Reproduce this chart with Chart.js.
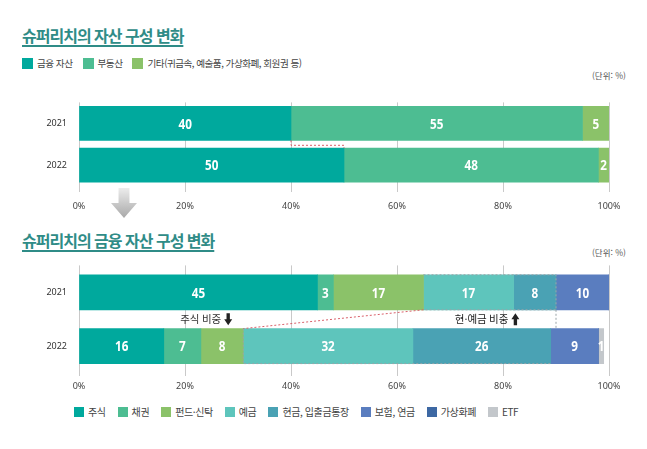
<!DOCTYPE html>
<html lang="ko">
<head>
<meta charset="utf-8">
<script src="https://cdn.jsdelivr.net/npm/chart.js@4.4.0/dist/chart.umd.min.js"></script>
<style>
  body { margin: 0; background: #fff; font-family: 'Noto Sans CJK KR', 'Noto Sans', sans-serif; }
  #page { position: relative; width: 647px; height: 449px; overflow: hidden; }
  .title { position: absolute; left: 22px; font-size: 16px; font-weight: 700; color: #2f8c87;
           letter-spacing: -1px; text-decoration: underline; text-underline-offset: 3px;
           text-decoration-thickness: 1.5px; line-height: 20px; }
  .unit { position: absolute; left: 592px; font-size: 8.5px; color: #555; line-height: 10px; }
  .legend { position: absolute; display: flex; align-items: center; font-size: 10px; color: #444;
            letter-spacing: -0.4px; line-height: 12px; }
  .legend .item { display: flex; align-items: center; }
  .legend i { display: inline-block; margin-right: 4px; }
  #legend1 { left: 22px; top: 57px; gap: 10px; font-size: 9.6px; letter-spacing: -0.5px; }
  #legend1 i { width: 11px; height: 11px; }
  #legend2 { left: 74px; top: 406px; gap: 12px; }
  #legend2 i { width: 10px; height: 10px; }
  canvas { position: absolute; left: 0; }
</style>
</head>
<body>
<div id="page">
  <div class="title" style="top:25px">슈퍼리치의 자산 구성 변화</div>
  <div class="legend" id="legend1"></div>
  <div class="unit" style="top:70px">(단위: %)</div>
  <canvas id="assetChart" width="647" height="135" style="top:85px"></canvas>

  <div class="title" style="top:230px">슈퍼리치의 금융 자산 구성 변화</div>
  <div class="unit" style="top:247px">(단위: %)</div>
  <canvas id="finChart" width="647" height="150" style="top:248px"></canvas>
  <div class="legend" id="legend2"></div>
</div>

<script>
// --- 데이터 ---
const years = ['2021', '2022'];
const xTicks = [0, 20, 40, 60, 80, 100];

// 자산 구성
const assetNames = ['금융 자산', '부동산', '기타(귀금속, 예술품, 가상화폐, 회원권 등)'];
const finAsset = [40, 50];
const realEstate = [55, 48];
const etcAsset = [5, 2];
const assetColors = ['#00a99d', '#4dbd92', '#8bc269'];

// 금융 자산 구성
const finNames = ['주식', '채권', '펀드·신탁', '예금', '현금, 입출금통장', '보험, 연금', '가상화폐', 'ETF'];
const stocks = [45, 16];
const bonds = [3, 7];
const funds = [17, 8];
const deposits = [17, 32];
const cash = [8, 26];
const insurance = [10, 9];
const crypto = [0, 0];
const etf = [0, 1];
const finColors = ['#00a99d', '#4dbd92', '#8bc269', '#5ec5bc', '#4aa2b4', '#5a7dbf', '#3d68a3', '#c3c7cb'];

// --- 범례 (HTML) ---
function buildLegend(el, names, colors) {
  names.forEach((n, i) => {
    const span = document.createElement('span');
    span.className = 'item';
    span.innerHTML = `<i style="background:${colors[i]}"></i>${n}`;
    el.appendChild(span);
  });
}
buildLegend(document.getElementById('legend1'), assetNames, assetColors);
buildLegend(document.getElementById('legend2'), finNames, finColors);

// --- 막대 안의 숫자 ---
const valueLabels = {
  id: 'valueLabels',
  afterDatasetsDraw(chart) {
    const ctx = chart.ctx;
    ctx.save();
    ctx.fillStyle = '#fff';
    ctx.font = 'bold 15px "Noto Sans", sans-serif';
    ctx.textAlign = 'center';
    ctx.textBaseline = 'middle';
    chart.data.datasets.forEach((ds, i) => {
      chart.getDatasetMeta(i).data.forEach((bar, j) => {
        const v = ds.data[j];
        if (!v) return;
        ctx.save();
        ctx.translate((bar.x + bar.base) / 2, bar.y + 1);
        ctx.scale(0.78, 1);
        ctx.fillText(String(v), 0, 0);
        ctx.restore();
      });
    });
    ctx.restore();
  }
};

function barEdges(chart) {
  const el0 = chart.getDatasetMeta(0).data[0];
  const el1 = chart.getDatasetMeta(0).data[1];
  return { bottom0: el0.y + el0.height / 2, top1: el1.y - el1.height / 2 };
}

function drawArrow(ctx, cx, top, w, h, up, fill) {
  const hw = w / 2, sw = w * 0.42 / 2, headH = h * 0.5;
  ctx.beginPath();
  if (up) {
    ctx.moveTo(cx, top);
    ctx.lineTo(cx + hw, top + headH);
    ctx.lineTo(cx + sw, top + headH);
    ctx.lineTo(cx + sw, top + h);
    ctx.lineTo(cx - sw, top + h);
    ctx.lineTo(cx - sw, top + headH);
    ctx.lineTo(cx - hw, top + headH);
  } else {
    ctx.moveTo(cx - sw, top);
    ctx.lineTo(cx + sw, top);
    ctx.lineTo(cx + sw, top + h - headH);
    ctx.lineTo(cx + hw, top + h - headH);
    ctx.lineTo(cx, top + h);
    ctx.lineTo(cx - hw, top + h - headH);
    ctx.lineTo(cx - sw, top + h - headH);
  }
  ctx.closePath();
  ctx.fillStyle = fill;
  ctx.fill();
}

function dotted(ctx, color, pts) {
  ctx.save();
  ctx.strokeStyle = color;
  ctx.lineWidth = 1;
  ctx.setLineDash([2, 2]);
  ctx.beginPath();
  pts.forEach((p, i) => i ? ctx.lineTo(p[0], p[1]) : ctx.moveTo(p[0], p[1]));
  ctx.stroke();
  ctx.restore();
}

// 상단 차트: 빨간 점선 + 회색 화살표
const assetNotes = {
  id: 'assetNotes',
  afterDraw(chart) {
    const ctx = chart.ctx, xs = chart.scales.x;
    const e = barEdges(chart);
    const x40 = xs.getPixelForValue(finAsset[0]);
    const x50 = xs.getPixelForValue(finAsset[1]);
    const mid = e.bottom0 + 5;
    dotted(ctx, '#d9606a', [[x40, e.bottom0], [x40, mid], [x50, mid], [x50, e.top1]]);

    const top = chart.chartArea.bottom + 2;
    const g = ctx.createLinearGradient(0, top, 0, top + 30);
    g.addColorStop(0, '#ececec');
    g.addColorStop(1, '#a8a8a8');
    drawArrow(ctx, chart.chartArea.left + 45, top, 26, 30, false, g);
  }
};

// 하단 차트: 점선, 주석
const finNotes = {
  id: 'finNotes',
  afterDraw(chart) {
    const ctx = chart.ctx, xs = chart.scales.x;
    const e = barEdges(chart);
    const el0 = chart.getDatasetMeta(0).data[0];
    const el1 = chart.getDatasetMeta(0).data[1];
    const sum = (arrs, j) => arrs.reduce((s, a) => s + a[j], 0);
    const a21 = sum([stocks, bonds, funds], 0);
    const b21 = a21 + deposits[0] + cash[0];
    const a22 = sum([stocks, bonds, funds], 1);
    const b22 = a22 + deposits[1] + cash[1];
    const px = v => xs.getPixelForValue(v);

    dotted(ctx, '#d9606a', [[px(a21), e.bottom0], [px(a22), e.top1]]);
    dotted(ctx, '#9aa4a8', [[px(a21), el0.y - el0.height / 2], [px(b21), el0.y - el0.height / 2],
                            [px(b21), e.bottom0], [px(a21), e.bottom0]]);
    dotted(ctx, '#9aa4a8', [[px(b21), e.bottom0], [px(b21), e.top1]]);
    dotted(ctx, '#9aa4a8', [[px(a22), e.top1], [px(a22), el1.y + el1.height / 2],
                            [px(b22), el1.y + el1.height / 2]]);

    const cy = (e.bottom0 + e.top1) / 2;
    ctx.save();
    ctx.font = '10.5px "Noto Sans CJK KR", sans-serif';
    ctx.fillStyle = '#333';
    ctx.textBaseline = 'middle';
    ctx.textAlign = 'left';
    [['주식 비중', 24, false], ['현·예금 비중', 77, true]].forEach(([t, v, up]) => {
      const w = ctx.measureText(t).width + 11;
      const x0 = px(v) - w / 2;
      ctx.fillText(t, x0, cy);
      drawArrow(ctx, x0 + w - 4, cy - 6, 8, 12, up, '#222');
    });
    ctx.restore();
  }
};

function makeOptions(axisHeight, padTop, tickLen, tickPad) {
  return {
    indexAxis: 'y',
    responsive: false,
    animation: false,
    devicePixelRatio: 1,
    layout: { padding: { top: padTop, right: 38, left: 0, bottom: 0 } },
    plugins: { legend: { display: false }, tooltip: { enabled: false } },
    scales: {
      x: {
        stacked: true, min: 0, max: 100,
        afterBuildTicks: s => { s.ticks = xTicks.map(v => ({ value: v })); },
        afterFit: s => { s.height = axisHeight; },
        grid: { color: '#c9c9c9', lineWidth: 1, tickLength: tickLen },
        border: { display: false },
        ticks: { padding: tickPad, color: '#444', font: { size: 9, family: '"Noto Sans", sans-serif' },
                 callback: v => v + '%', maxRotation: 0 }
      },
      y: {
        stacked: true,
        afterFit: s => { s.width = 79; },
        grid: { display: false, drawTicks: false },
        border: { display: false },
        ticks: { padding: 12, color: '#333', font: { size: 9, family: '"Noto Sans", sans-serif' } }
      }
    }
  };
}

function makeSets(series, names, colors, thickness) {
  return series.map((d, i) => ({
    label: names[i], data: d, backgroundColor: colors[i], borderWidth: 0, barThickness: thickness
  }));
}

new Chart(document.getElementById('assetChart'), {
  type: 'bar',
  data: { labels: years, datasets: makeSets([finAsset, realEstate, etcAsset], assetNames, assetColors, 34) },
  options: makeOptions(34, 8, 6, 9),
  plugins: [valueLabels, assetNotes]
});

new Chart(document.getElementById('finChart'), {
  type: 'bar',
  data: { labels: years,
          datasets: makeSets([stocks, bonds, funds, deposits, cash, insurance, crypto, etf], finNames, finColors, 35) },
  options: makeOptions(25, 11, 3, 5),
  plugins: [valueLabels, finNotes]
});
</script>
</body>
</html>
